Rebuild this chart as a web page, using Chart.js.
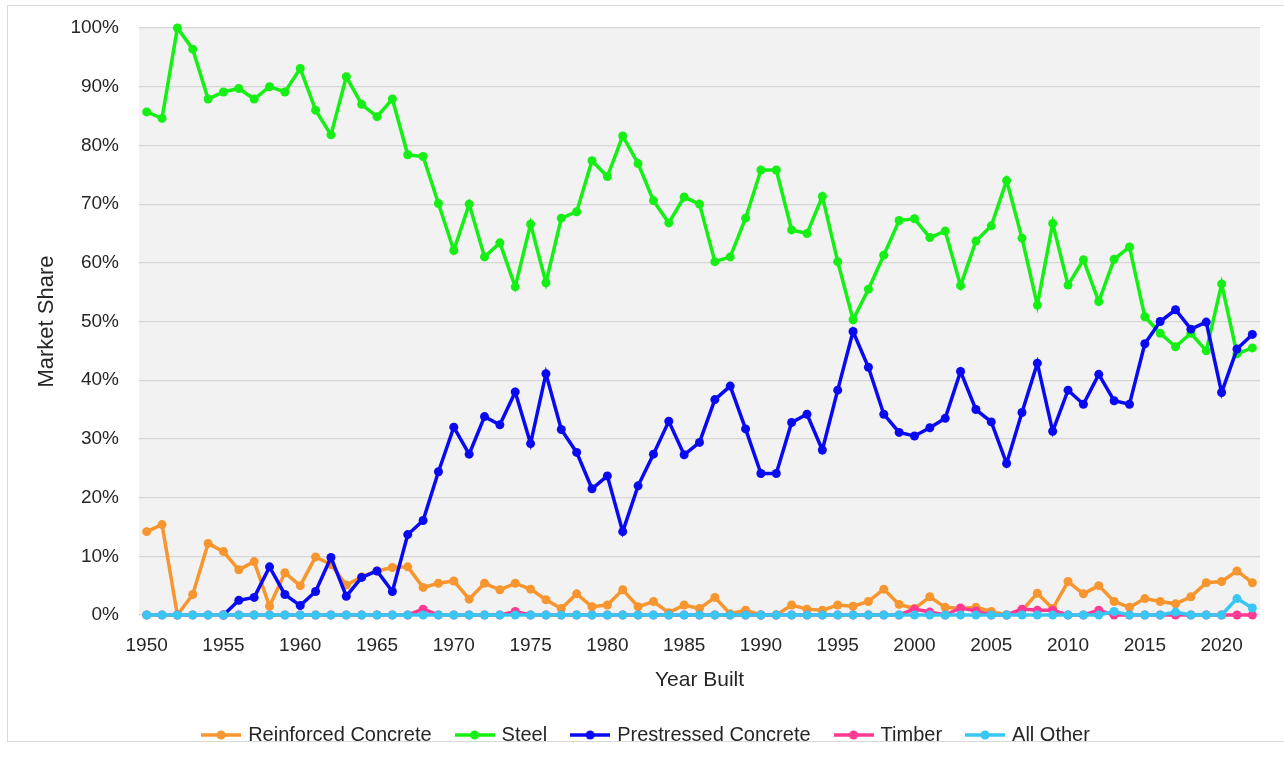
<!DOCTYPE html>
<html>
<head>
<meta charset="utf-8">
<script src="https://cdn.jsdelivr.net/npm/chart.js@4/dist/chart.umd.min.js"></script>
<style>
  html, body { margin: 0; padding: 0; background: #ffffff; }
  #wrap { position: relative; width: 1284px; height: 759px; overflow: hidden; }
  #frame { position: absolute; left: 7px; top: 5px; width: 1300px; height: 737px; border: 1px solid #d9d9d9; box-sizing: border-box; pointer-events: none; }
  canvas { position: absolute; left: 0; top: 0; }
</style>
</head>
<body>
<div id="wrap">
  <div id="frame"></div>
  <canvas id="chart" width="1284" height="759"></canvas>
</div>
<script>
// Year built, 1950–2022
const years = [
  1950,1951,1952,1953,1954,1955,1956,1957,1958,1959,
  1960,1961,1962,1963,1964,1965,1966,1967,1968,1969,
  1970,1971,1972,1973,1974,1975,1976,1977,1978,1979,
  1980,1981,1982,1983,1984,1985,1986,1987,1988,1989,
  1990,1991,1992,1993,1994,1995,1996,1997,1998,1999,
  2000,2001,2002,2003,2004,2005,2006,2007,2008,2009,
  2010,2011,2012,2013,2014,2015,2016,2017,2018,2019,
  2020,2021,2022
];

// Market share by material (%)
const reinforcedConcrete = [
  14.2,15.4,0,3.5,12.2,10.8,7.7,9.1,1.5,7.2,
  5.0,9.9,8.6,5.1,6.5,7.5,8.1,8.2,4.7,5.4,
  5.8,2.7,5.4,4.3,5.4,4.4,2.6,1.1,3.6,1.4,
  1.7,4.3,1.4,2.3,0.4,1.7,1.1,3.0,0.2,0.8,
  0,0,1.7,1.0,0.8,1.7,1.5,2.3,4.4,1.8,
  1.1,3.1,1.3,1.1,1.3,0.6,0,0.8,3.7,1.1,
  5.7,3.6,5.0,2.3,1.3,2.8,2.3,1.9,3.1,5.5,
  5.7,7.5,5.5
];
const steel = [
  85.7,84.6,100,96.4,87.9,89.1,89.7,87.9,90.0,89.1,
  93.1,86.0,81.8,91.7,87.0,84.9,87.9,78.4,78.1,70.1,
  62.1,70.0,61.0,63.4,55.9,66.6,56.6,67.6,68.7,77.4,
  74.7,81.6,76.9,70.6,66.8,71.2,70.0,60.2,61.0,67.6,
  75.8,75.8,65.6,65.0,71.3,60.2,50.3,55.5,61.3,67.2,
  67.5,64.3,65.4,56.1,63.7,66.3,74.0,64.2,52.8,66.7,
  56.2,60.5,53.4,60.6,62.7,50.8,48.0,45.7,48.0,45.0,
  56.4,44.5,45.5
];
const prestressedConcrete = [
  null,null,null,null,null,0,2.5,3.0,8.2,3.5,
  1.6,4.0,9.8,3.2,6.4,7.5,4.0,13.7,16.1,24.4,
  32.0,27.4,33.8,32.4,38.0,29.2,41.1,31.6,27.7,21.5,
  23.7,14.2,22.0,27.4,33.0,27.3,29.4,36.7,39.0,31.7,
  24.1,24.1,32.8,34.2,28.1,38.3,48.3,42.2,34.2,31.1,
  30.5,31.9,33.5,41.5,35.0,32.9,25.8,34.5,42.9,31.3,
  38.3,35.9,41.0,36.5,35.9,46.2,50.0,52.0,48.7,49.9,
  37.9,45.3,47.8
];
const timber = [
  0,0,0,0,0,0,0,0,0,0,
  0,0,0,0,0,0,0,0,1.0,0,
  0,0,0,0,0.6,0,0,0,0,0,
  0,0,0,0,0,0,0,0,0,0,
  0,0,0,0,0,0,0,0,0,0,
  1.0,0.5,0,1.2,0.7,0,0,1.0,0.8,0.8,
  0,0,0.8,0,0,0,0,0,0,0,
  0,0,0
];
const allOther = [
  0,0,0,0,0,0,0,0,0,0,
  0,0,0,0,0,0,0,0,0,0,
  0,0,0,0,0,0,0,0,0,0,
  0,0,0,0,0,0,0,0,0,0,
  0,0,0,0,0,0,0,0,0,0,
  0,0,0,0,0,0,0,0,0,0,
  0,0,0,0.6,0,0,0,0.5,0,0,
  0,2.8,1.2
];

const seriesNames = ['Reinforced Concrete', 'Steel', 'Prestressed Concrete', 'Timber', 'All Other'];
const seriesColors = ['#f7962f', '#14f014', '#0a0af2', '#ff3a93', '#38c6f2'];
const yTicks = [0, 10, 20, 30, 40, 50, 60, 70, 80, 90, 100];

const FONT = "'Liberation Sans', Arial, sans-serif";

// Legend marker: a short line with a dot in the middle
function legendMarker(color) {
  const c = document.createElement('canvas');
  c.width = 40; c.height = 12;
  const g = c.getContext('2d');
  g.strokeStyle = color; g.lineWidth = 3.5; g.lineCap = 'butt';
  g.beginPath(); g.moveTo(0, 6); g.lineTo(40, 6); g.stroke();
  g.fillStyle = color;
  g.beginPath(); g.arc(20, 6, 4.5, 0, Math.PI * 2); g.fill();
  return c;
}

const seriesData = [reinforcedConcrete, steel, prestressedConcrete, timber, allOther];
const datasets = seriesData.map((values, i) => ({
  label: seriesNames[i],
  data: values,
  borderColor: seriesColors[i],
  backgroundColor: seriesColors[i],
  pointBackgroundColor: seriesColors[i],
  pointBorderColor: seriesColors[i],
  borderWidth: 3.5,
  pointRadius: 4.5,
  pointBorderWidth: 0,
  tension: 0,
  spanGaps: false,
  order: seriesNames.length - 1 - i,
  clip: false
}));

// Light grey plot panel behind the data
const plotPanel = {
  id: 'plotPanel',
  beforeDraw(chart) {
    const { ctx, chartArea: a } = chart;
    ctx.save();
    ctx.fillStyle = '#f2f2f2';
    ctx.fillRect(a.left, a.top, a.right - a.left, a.bottom - a.top);
    ctx.restore();
  }
};

new Chart(document.getElementById('chart'), {
  type: 'line',
  data: { labels: years, datasets },
  plugins: [plotPanel],
  options: {
    responsive: false,
    animation: false,
    devicePixelRatio: 1,
    layout: { padding: { left: 34, right: 24, top: 28, bottom: 4 } },
    plugins: {
      title: { display: false },
      tooltip: { enabled: false },
      legend: {
        position: 'bottom',
        labels: {
          font: { family: FONT, size: 20 },
          color: '#262626',
          usePointStyle: true,
          pointStyleWidth: 34,
          padding: 26,
          sort: (a, b) => a.datasetIndex - b.datasetIndex,
          generateLabels(chart) {
            return chart.data.datasets.map((ds, i) => ({
              text: ds.label,
              fillStyle: ds.borderColor,
              strokeStyle: ds.borderColor,
              lineWidth: 0,
              pointStyle: legendMarker(ds.borderColor),
              hidden: false,
              datasetIndex: i,
              fontColor: '#262626'
            }));
          }
        }
      }
    },
    scales: {
      x: {
        type: 'category',
        offset: true,
        afterFit(scale) { scale.height = 84; },
        grid: { display: false, drawTicks: false },
        border: { display: false },
        ticks: {
          autoSkip: false,
          maxRotation: 0,
          padding: 19,
          color: '#262626',
          font: { family: FONT, size: 19 },
          callback(value) {
            const y = years[value];
            return y % 5 === 0 ? String(y) : '';
          }
        },
        title: {
          display: true,
          text: 'Year Built',
          color: '#262626',
          font: { family: FONT, size: 21 },
          padding: { top: 0, bottom: 6 }
        }
      },
      y: {
        min: 0,
        max: 100,
        afterFit(scale) {
          scale.width = 105;
          scale.paddingTop = 0;
          scale.paddingBottom = 0;
        },
        afterBuildTicks(scale) { scale.ticks = yTicks.map(v => ({ value: v })); },
        grid: { color: '#d6d6d6', lineWidth: 1.2, drawTicks: false },
        border: { display: false },
        ticks: {
          padding: 20,
          color: '#262626',
          font: { family: FONT, size: 19 },
          callback: v => v + '%'
        },
        title: {
          display: true,
          text: 'Market Share',
          color: '#262626',
          font: { family: FONT, size: 22 },
          padding: { top: 0, bottom: 0 }
        }
      }
    }
  }
});
</script>
</body>
</html>
